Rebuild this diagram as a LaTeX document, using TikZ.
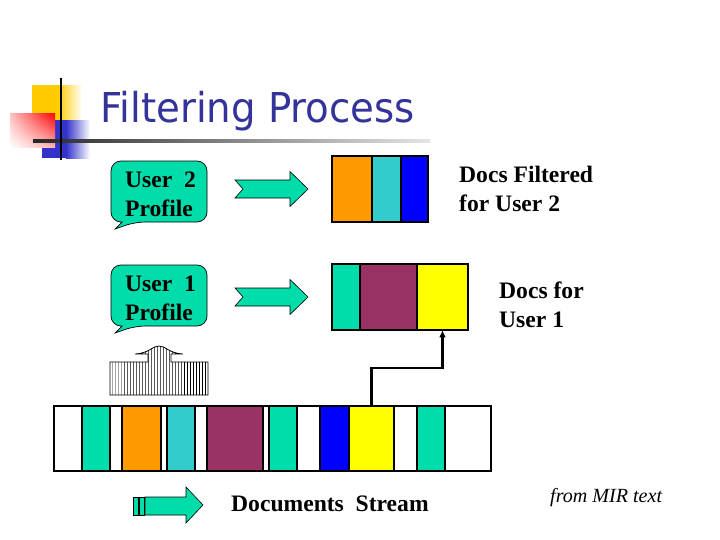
\documentclass[tikz,border=0pt]{standalone}
\usepackage{fontspec}
\setmainfont{Liberation Serif}
\newfontfamily\headfont{DejaVu Sans}
\usepackage{tikz}
\usetikzlibrary{arrows.meta,patterns,shadings}
\definecolor{mint}{HTML}{00DDAA}
\definecolor{docorange}{HTML}{FF9900}
\definecolor{doccyan}{HTML}{33CCCC}
\definecolor{docblue}{HTML}{0000FF}
\definecolor{docmaroon}{HTML}{993366}
\definecolor{docyellow}{HTML}{FFFF00}
\definecolor{headblue}{HTML}{333399}
\definecolor{logoyellow}{HTML}{FFCC00}
\definecolor{logoblue}{HTML}{3333CC}
\tikzset{
  cell/.style={draw=black, line width=1.2pt, inner sep=0pt, outer sep=0pt},
  bubble/.style={draw=black, fill=mint, line width=0.7pt, rounded corners=3.5mm},
  chev/.style={draw=black, fill=mint, line width=0.6pt},
  hatch/.style={draw=black, line width=0.8pt, pattern=vertical lines},
  link/.style={draw=black, line width=2.4pt, -{Latex[length=2.6mm,width=2.4mm]}},
  lab/.style={font=\fontsize{23.5}{29}\selectfont\bfseries, align=left, inner sep=0pt},
  src/.style={font=\fontsize{20}{20}\selectfont\itshape, inner sep=0pt},
  headline/.style={text=headblue, font=\headfont\fontsize{41}{41}\selectfont, inner sep=0pt},
  chevron/.pic={\draw[chev] (0,-9) -- (55,-9) -- (55,-17.5) -- (73,0) -- (55,17.5) -- (55,9) -- (0,9) -- (8,0) -- cycle;},
}

\begin{document}
\begin{tikzpicture}[x=0.035cm, y=-0.035cm]
  \useasboundingbox (0,0) rectangle (720,540);
  \fill[white] (0,0) rectangle (720,540);

  % logo
  \fill[logoyellow] (32,85) rectangle (58,120);
  \shade[left color=logoyellow, right color=white] (58,85) rectangle (82,120);
  \fill[logoblue] (42,120) rectangle (66,158);
  \shade[left color=logoblue, right color=white] (66,120) rectangle (90,158);
  \shade[upper right=red, upper left=red!25, lower right=red!30, lower left=white] (10,113) rectangle (55,147);
  \shade[left color=black!85, right color=black!10] (33,139.8) rectangle (430,142.2);
  \draw[line width=2pt] (61,78) -- (61,160);

  \node[headline, anchor=base west] (head) at (100,122) {\scalebox{0.94}[1]{Filtering Process}};

  % profiles
  \draw[bubble] (111,161) -- (207,161) -- (207,222) -- (135,222) [sharp corners] -- (115,229) -- (122,222) [rounded corners=3.5mm] -- (111,222) -- cycle;
  \node[lab, anchor=west] (u2) at (125,194.5) {User\ \ 2\\Profile};
  \draw[bubble] (111,265) -- (207,265) -- (207,326) -- (135,326) [sharp corners] -- (115,333) -- (122,326) [rounded corners=3.5mm] -- (111,326) -- cycle;
  \node[lab, anchor=west] (u1) at (125,298.5) {User\ \ 1\\Profile};

  \pic at (235,189) {chevron};
  \pic at (235,297) {chevron};

  % filtered docs
  \foreach \a/\b/\c [count=\i] in {332/372/docorange, 372/401/doccyan, 401/428/docblue}
    \node[cell, fill=\c, minimum width={(\b-\a)*0.35mm}, minimum height=23.1mm] (p\i) at ({(\a+\b)/2},189) {};
  \foreach \a/\b/\c [count=\i] in {332/360/mint, 360/417/docmaroon, 417/468/docyellow}
    \node[cell, fill=\c, minimum width={(\b-\a)*0.35mm}, minimum height=23.1mm] (q\i) at ({(\a+\b)/2},297) {};

  \node[lab, anchor=west] (d2) at (459,189) {Docs Filtered\\for User 2};
  \node[lab, anchor=west] (d1) at (499,304.5) {Docs for\\User 1};

  % stream
  \foreach \a/\b/\c [count=\i] in {54/82/white, 82/110/mint, 110/122/white, 122/161/docorange,
      161/167/white, 167/195/doccyan, 195/207/white, 207/263/docmaroon, 263/269/white,
      269/297/mint, 297/320/white, 320/349/docblue, 349/394/docyellow, 394/417/white,
      417/445/mint, 445/491/white}
    \node[cell, fill=\c, minimum width={(\b-\a)*0.35mm}, minimum height=22.75mm] (s\i) at ({(\a+\b)/2},438.5) {};

  \draw[link] (s13.north) -- ++(0,-38) -| (q3.south);

  \draw[hatch] (110,395) -- (110,362) -- (148,362) -- (148,354) -- (135,354)
    .. controls (150,353) and (152,346) .. (159,346)
    .. controls (166,346) and (168,353) .. (183,354) -- (171,354) -- (171,362)
    -- (208,362) -- (208,395) -- cycle;

  % legend
  \draw[chev] (133,497) rectangle (138,515);
  \draw[chev] (139.5,497) rectangle (144.5,515);
  \draw[chev] (145,497) -- (186,497) -- (186,487) -- (203,505) -- (186,523) -- (186,515) -- (145,515) -- cycle;
  \node[lab, anchor=west] (stream) at (231,504) {Documents\ \ Stream};
  \node[src, anchor=west] (mir) at (550,498) {from MIR text};
\end{tikzpicture}
\end{document}
